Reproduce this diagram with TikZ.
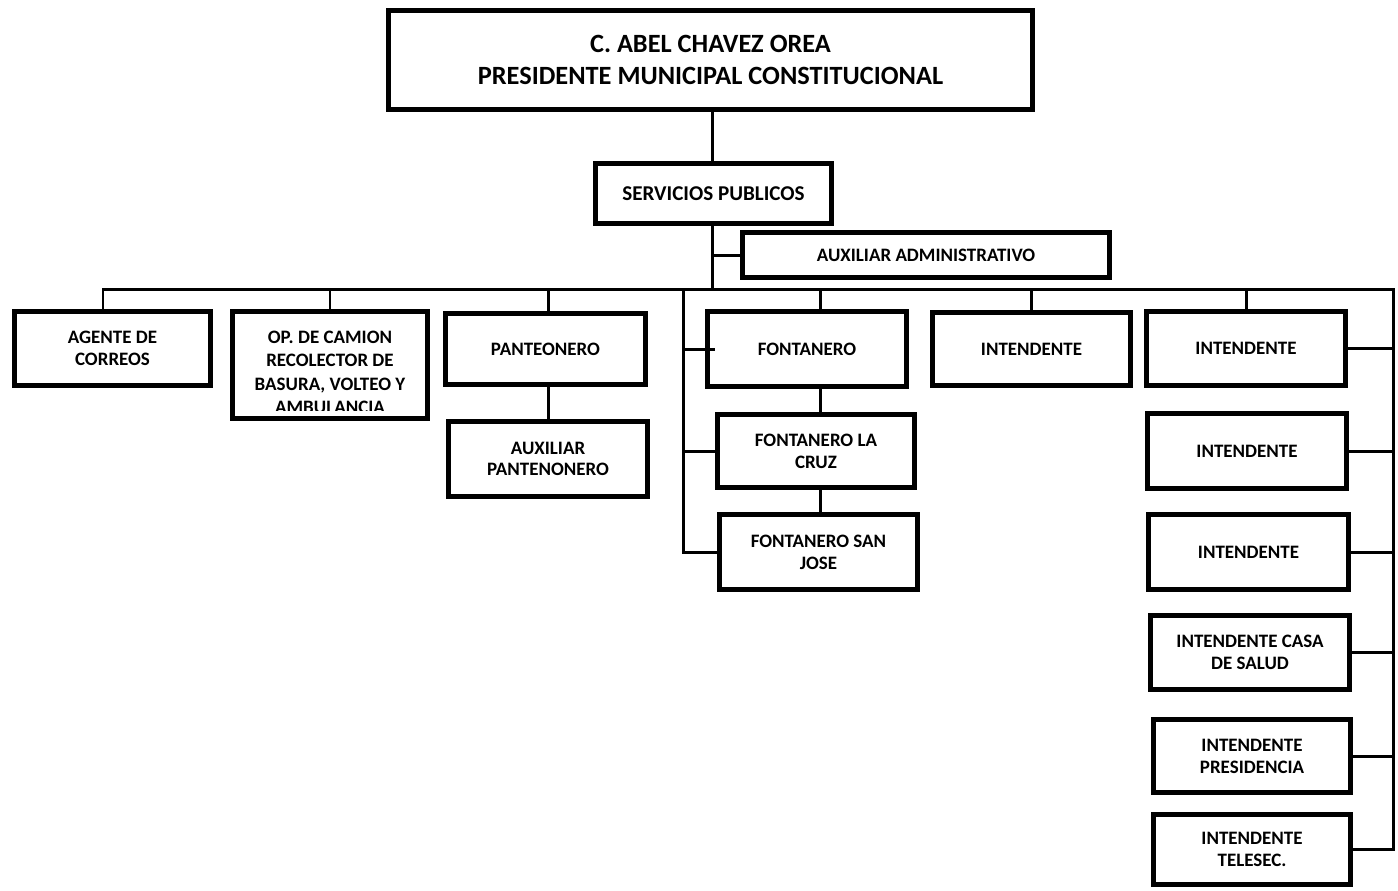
\documentclass[tikz,border=0pt]{standalone}
\usepackage{fontspec}
\setmainfont{Carlito}
\usetikzlibrary{positioning}

\begin{document}
\begin{tikzpicture}[x=0.02cm, y=-0.02cm,
      box/.style={rectangle, draw, line width=2.8pt, align=center, inner sep=0pt,
                  font=\bfseries\fontsize{10.8}{12.4}\selectfont},
      sz/.style 2 args={minimum width=#1cm, minimum height=#2cm},
      conn/.style={line width=1.7pt}
    ]
    \useasboundingbox (0,0) rectangle (1398,890);

    % cabeza
    \node[box, sz={12.90}{1.99}, font=\bfseries\fontsize{15}{17.8}\selectfont] (pres) at (710.5,60)
      {C. ABEL CHAVEZ OREA\\PRESIDENTE MUNICIPAL CONSTITUCIONAL};
    \node[box, sz={4.72}{1.20}, font=\bfseries\fontsize{12}{14}\selectfont] (serv) at (713.5,193.5) {SERVICIOS PUBLICOS};
    \node[box, sz={7.34}{0.90}] (aux) at (926,255) {AUXILIAR ADMINISTRATIVO};

    % primer nivel
    \node[box, sz={3.92}{1.48}] (agente) at (112.5,348.5) {AGENTE DE\\CORREOS};
    \node[box, sz={3.90}{2.14}] (camion) at (330,365) {};
    \node[box, sz={4.00}{1.42}] (panteon) at (545.5,349) {PANTEONERO};
    \node[box, sz={3.98}{1.50}] (fontanero) at (807,349) {FONTANERO};
    \node[box, sz={3.96}{1.46}] (intmid) at (1031.5,349) {INTENDENTE};
    \node[box, sz={3.98}{1.48}] (int1) at (1246,348.5) {INTENDENTE};

    \begin{scope}
      \clip (camion.north west) rectangle (430,410);
      \node[align=center, font=\bfseries\fontsize{10.8}{13.4}\selectfont] (camiontxt) at (330,372.5)
        {OP. DE CAMION\\RECOLECTOR DE\\BASURA, VOLTEO Y\\AMBULANCIA};
    \end{scope}

    % segundo nivel
    \node[box, sz={3.98}{1.50}] (auxpant) at (548,459) {AUXILIAR\\PANTENONERO};
    \node[box, sz={3.94}{1.46}] (lacruz) at (816,451) {FONTANERO LA\\CRUZ};
    \node[box, sz={3.96}{1.50}] (sanjose) at (818.5,552) {FONTANERO SAN\\JOSE};

    % columna derecha
    \node[box, sz={3.98}{1.50}] (int2) at (1247,451) {INTENDENTE};
    \node[box, sz={4.00}{1.50}] (int3) at (1248.5,552) {INTENDENTE};
    \node[box, sz={3.98}{1.48}] (casa) at (1250,652.5) {INTENDENTE CASA\\DE SALUD};
    \node[box, sz={3.94}{1.46}] (presid) at (1252,756) {INTENDENTE\\PRESIDENCIA};
    \node[box, sz={3.94}{1.40}] (telesec) at (1252,849.5) {INTENDENTE\\TELESEC.};

    % lineas
    \coordinate (spine) at (712,289);
    \coordinate (busL) at (103,289);
    \coordinate (busR) at (1393,289);
    \coordinate (fbar) at (683,289);
    \coordinate (fdrop) at (820,289);

    \draw[conn] (pres.south -| spine) -- (serv.north -| spine);
    \draw[conn] (serv.south -| spine) -- (spine);
    \draw[conn] (spine |- aux.west) -- (aux.west);
    \draw[conn] (busL |- agente.north) -- (busL) -- (busR) -- (busR |- telesec.east) -- (telesec.east);

    \draw[conn] (camion.north) -- (camion.north |- busL);
    \draw[conn] (auxpant.north |- panteon.north) -- (auxpant.north |- busL);
    \draw[conn] (fdrop |- fontanero.north) -- (fdrop);
    \draw[conn] (intmid.north) -- (intmid.north |- busL);
    \draw[conn] (int1.north) -- (int1.north |- busL);

    \draw[conn] (auxpant.north |- panteon.south) -- (auxpant.north);
    \draw[conn] (fdrop |- fontanero.south) -- (fdrop |- lacruz.north);
    \draw[conn] (fdrop |- lacruz.south) -- (fdrop |- sanjose.north);

    \draw[conn] (fbar) -- (fbar |- sanjose.west) -- (sanjose.west);
    \draw[conn] (fbar |- lacruz.west) -- (lacruz.west);
    \draw[conn] (fbar |- fontanero.west) -- ([xshift=0.2cm]fontanero.west);

    \foreach \n in {int1,int2,int3,casa,presid}
      \draw[conn] (\n.east) -- (\n.east -| busR);
  \end{tikzpicture}
\end{document}
